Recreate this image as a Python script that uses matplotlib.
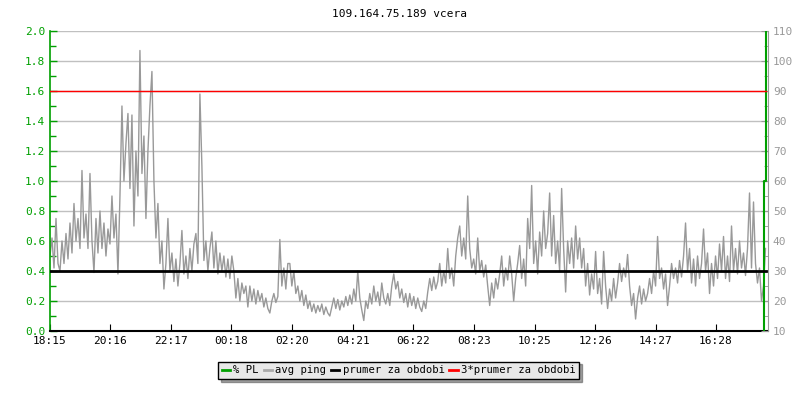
import numpy as np
import matplotlib
matplotlib.use("Agg")
import matplotlib.pyplot as plt
from matplotlib.ticker import MultipleLocator, FormatStrFormatter
from matplotlib.lines import Line2D

title = "109.164.75.189 vcera"
time_labels = ["18:15", "20:16", "22:17", "00:18", "02:20", "04:21",
               "06:22", "08:23", "10:25", "12:26", "14:27", "16:28"]
step_min = 4  # one sample every 4 minutes

# avg ping (left axis)
ping_a = [0.5, 0.62, 0.42, 0.75, 0.45, 0.4, 0.6, 0.45, 0.65, 0.48,
          0.72, 0.52, 0.85, 0.6, 0.75, 0.55, 1.07, 0.62, 0.78, 0.55,
          1.05, 0.6, 0.39, 0.75, 0.52, 0.8, 0.55, 0.72, 0.5, 0.68,
          0.58, 0.9, 0.62, 0.78, 0.38, 0.9, 1.5, 1.0, 1.25, 1.45,
          0.95, 1.44, 0.7, 1.2, 0.9, 1.87, 1.05, 1.3, 0.75, 1.2,
          1.5, 1.73, 1.0, 0.62, 0.85, 0.45, 0.6, 0.28, 0.45, 0.75]
ping_b = [0.4, 0.52, 0.33, 0.48, 0.3, 0.45, 0.67, 0.38, 0.5, 0.35,
          0.55, 0.4, 0.58, 0.65, 0.45, 1.58, 1.1, 0.47, 0.6, 0.4,
          0.55, 0.66, 0.42, 0.6, 0.38, 0.52, 0.4, 0.5, 0.36, 0.48,
          0.35, 0.5, 0.4, 0.22, 0.35, 0.2, 0.32, 0.25, 0.3, 0.16,
          0.3, 0.2, 0.28, 0.18, 0.27, 0.2, 0.25, 0.16, 0.22, 0.15,
          0.12, 0.2, 0.25, 0.19, 0.23, 0.61, 0.3, 0.42, 0.28, 0.45]
ping_c = [0.45, 0.3, 0.4, 0.25, 0.3, 0.2, 0.27, 0.17, 0.24, 0.15,
          0.2, 0.13, 0.18, 0.12, 0.17, 0.13, 0.18, 0.11, 0.16, 0.12,
          0.1, 0.16, 0.22, 0.15, 0.21, 0.14, 0.2, 0.16, 0.23, 0.17,
          0.24, 0.18, 0.28, 0.2, 0.4, 0.22, 0.14, 0.07, 0.2, 0.15,
          0.25, 0.18, 0.3, 0.2, 0.26, 0.17, 0.32, 0.22, 0.18, 0.25,
          0.17, 0.3, 0.38, 0.28, 0.33, 0.22, 0.28, 0.19, 0.25, 0.16]
ping_d = [0.25, 0.17, 0.23, 0.15, 0.22, 0.16, 0.13, 0.2, 0.15, 0.26,
          0.35, 0.27, 0.36, 0.28, 0.33, 0.45, 0.3, 0.4, 0.32, 0.55,
          0.35, 0.42, 0.3, 0.5, 0.62, 0.7, 0.5, 0.62, 0.48, 0.9,
          0.55, 0.42, 0.48, 0.38, 0.62, 0.4, 0.47, 0.36, 0.44, 0.3,
          0.17, 0.32, 0.22, 0.35, 0.28, 0.38, 0.5, 0.3, 0.42, 0.34,
          0.5, 0.38, 0.2, 0.35, 0.45, 0.57, 0.35, 0.48, 0.3, 0.75]
ping_e = [0.55, 0.97, 0.45, 0.6, 0.38, 0.66, 0.5, 0.8, 0.55, 0.65,
          0.92, 0.5, 0.77, 0.45, 0.6, 0.4, 0.95, 0.55, 0.26, 0.6,
          0.45, 0.62, 0.42, 0.7, 0.48, 0.62, 0.42, 0.55, 0.3, 0.45,
          0.24, 0.38, 0.28, 0.53, 0.25, 0.35, 0.18, 0.53, 0.3, 0.15,
          0.28, 0.2, 0.35, 0.22, 0.32, 0.45, 0.33, 0.42, 0.36, 0.51,
          0.3, 0.17, 0.25, 0.08, 0.22, 0.3, 0.18, 0.28, 0.2, 0.25]
ping_f = [0.35, 0.25, 0.4, 0.3, 0.63, 0.35, 0.42, 0.28, 0.38, 0.17,
          0.3, 0.45, 0.35, 0.42, 0.32, 0.47, 0.36, 0.5, 0.72, 0.4,
          0.55, 0.32, 0.48, 0.3, 0.5, 0.35, 0.45, 0.68, 0.4, 0.52,
          0.25, 0.45, 0.3, 0.5, 0.35, 0.58, 0.4, 0.63, 0.35, 0.5,
          0.33, 0.7, 0.4, 0.55, 0.38, 0.6, 0.42, 0.52, 0.37, 0.55,
          0.92, 0.42, 0.86, 0.45, 0.32, 0.42, 0.2, 0.3, 0.55]
ping = ping_a + ping_b + ping_c + ping_d + ping_e + ping_f

# % PL (right axis) - zero except at the very end
pl_tail = [60, 110]
pl = [0] * (len(ping) - len(pl_tail)) + pl_tail

mean_period = 30      # right axis value
mean_3x = 90          # right axis value

t = np.arange(len(ping)) * step_min


def to_min(lbl):
    h, m = map(int, lbl.split(":"))
    return (h * 60 + m - (18 * 60 + 15)) % 1440


tick_pos = [to_min(l) for l in time_labels]

plt.rcParams["font.family"] = "DejaVu Sans Mono"

fig = plt.figure(figsize=(8, 4), dpi=100)
ax = fig.add_axes([0.0625, 0.1725, 0.8975, 0.75])
ax2 = ax.twinx()

green = "#00a000"
grid_c = "#c0c0c0"
ping_c_col = "#999999"

ax.set_ylim(0, 2.0)
ax.set_xlim(0, 1437)
ax2.set_ylim(10, 110)

for v in np.arange(0.2, 2.01, 0.2):
    ax.axhline(v, color=grid_c, lw=1, zorder=0)

ax.plot(t, ping, color=ping_c_col, lw=1, zorder=2)
ax2.plot(t, pl, color=green, lw=1.5, drawstyle="steps-post", zorder=3)
ax2.plot([t[0], t[-1]], [mean_period] * 2, color="black", lw=2, zorder=4)
ax2.plot([t[0], t[-1]], [mean_3x] * 2, color="red", lw=1, zorder=4)

ax.set_xticks(tick_pos)
ax.set_xticklabels(time_labels, fontsize=8)
ax.yaxis.set_major_locator(MultipleLocator(0.2))
ax.yaxis.set_minor_locator(MultipleLocator(0.1))
ax.yaxis.set_major_formatter(FormatStrFormatter("%.1f"))
ax.tick_params(axis="y", which="both", direction="in", colors=green,
               labelsize=8, width=1)
ax.tick_params(axis="y", which="major", length=5)
ax.tick_params(axis="y", which="minor", length=4)
ax.tick_params(axis="x", direction="in", length=5, labelsize=8)

ax2.yaxis.set_major_locator(MultipleLocator(10))
ax2.yaxis.set_minor_locator(MultipleLocator(5))
ax2.tick_params(axis="y", which="both", direction="in", colors="#999999",
                labelsize=8)
ax2.tick_params(axis="y", which="major", length=5)
ax2.tick_params(axis="y", which="minor", length=3)

for a in (ax, ax2):
    a.spines["top"].set_visible(False)
ax.spines["left"].set_color(green)
ax.spines["left"].set_linewidth(1.2)
ax2.spines["left"].set_visible(False)
ax2.spines["right"].set_color("#999999")
ax.spines["right"].set_visible(False)
ax2.spines["bottom"].set_visible(False)
ax.spines["bottom"].set_linewidth(1.5)

fig.text(0.5, 0.965, title, ha="center", va="center", fontsize=8)

handles = [Line2D([], [], color=green, lw=2),
           Line2D([], [], color="#aaaaaa", lw=2),
           Line2D([], [], color="black", lw=2),
           Line2D([], [], color="red", lw=2)]
labels = ["% PL", "avg ping", "prumer za obdobi", "3*prumer za obdobi"]
leg = fig.legend(handles, labels, loc="center", bbox_to_anchor=(0.4985, 0.074),
                 ncol=4, fontsize=7.6, frameon=True, fancybox=False,
                 shadow=True, handlelength=0.8, handletextpad=0.3,
                 columnspacing=0.45, borderpad=0.35, borderaxespad=0)
leg.get_frame().set_facecolor("#e8e8e8")
leg.get_frame().set_edgecolor("black")
leg.get_frame().set_alpha(1)

fig.savefig("out.png", dpi=100)
